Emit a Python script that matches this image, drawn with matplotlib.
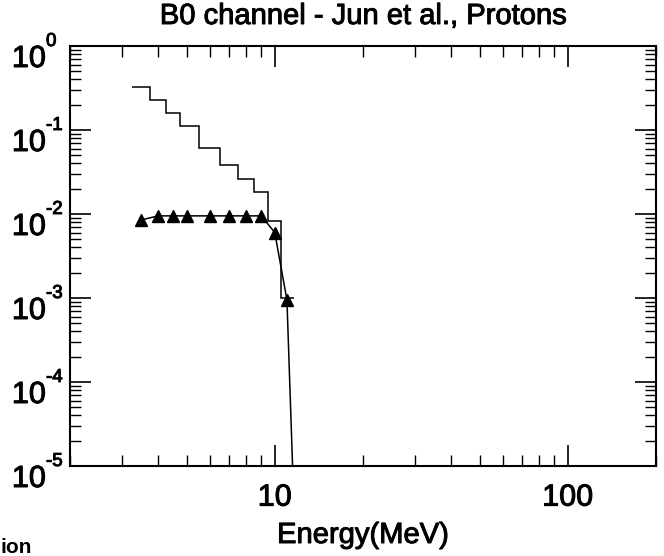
import matplotlib
matplotlib.use("Agg")
import matplotlib.pyplot as plt
import matplotlib.transforms as mtransforms
import matplotlib.patheffects as pe
import numpy as np

plt.rcParams['font.family'] = ['Liberation Sans', 'DejaVu Sans']

# Histogram (step) data: bin edges and values
hist_edges = [3.25, 3.75, 4.25, 4.75, 5.5, 6.5, 7.5, 8.5, 9.5, 10.5, 11.6]
hist_values = [0.328, 0.228, 0.158, 0.1125, 0.0616, 0.0383, 0.0259, 0.0184, 0.00826, 0.00099]

# Line with triangle markers
tri_energy = [3.5, 4.0, 4.5, 5.0, 6.0, 7.0, 8.0, 9.0, 10.0, 11.0]
tri_values = [0.0085, 0.0095, 0.0095, 0.0095, 0.0095, 0.0095, 0.0095, 0.0095, 0.0060, 0.00095]
tail_energy = [11.0, 11.5]
tail_values = [0.00095, 1.0e-5]

title_text = "B0 channel - Jun et al., Protons"
xlabel_text = "Energy(MeV)"
xticks = [10, 100]
xtick_labels = ["10", "100"]
yticks = [1e-5, 1e-4, 1e-3, 1e-2, 1e-1, 1e0]
ytick_exponents = ["-5", "-4", "-3", "-2", "-1", "0"]

bold_fx = [pe.withStroke(linewidth=0.7, foreground='black')]

fig = plt.figure(figsize=(6.64, 5.56), dpi=100)
ax = fig.add_axes([70/664, 90/556, 586/664, 420/556])

ax.stairs(hist_values, hist_edges, color='black', linewidth=1.1, baseline=None)
ax.plot(tri_energy, tri_values, color='black', linewidth=1.1, marker='^',
        markersize=8, markerfacecolor='black', markeredgecolor='black')
ax.plot(tail_energy, tail_values, color='black', linewidth=1.1)

ax.set_xscale('log')
ax.set_yscale('log')
ax.set_xlim(2, 200)
ax.set_ylim(1e-5, 1)

ax.set_xticks(xticks)
ax.set_xticklabels(xtick_labels)
ax.set_yticks(yticks)
ax.set_yticklabels([])

for s in ax.spines.values():
    s.set_linewidth(1.5)

ax.tick_params(which='major', direction='in', length=15, width=1.2,
               top=True, right=True, labelsize=22)
ax.tick_params(which='minor', direction='in', length=8, width=1.0,
               top=True, right=True)
ax.tick_params(axis='x', which='major', pad=12)
for lab in ax.get_xticklabels():
    lab.set_path_effects(bold_fx)

# y tick labels drawn as "10" with a raised exponent
for val, ex in zip(yticks, ytick_exponents):
    yfrac = (np.log10(val) - np.log10(1e-5)) / 5.0
    t_base = mtransforms.ScaledTranslation(-24/100, -21/100, fig.dpi_scale_trans)
    ax.text(0, yfrac, "10", transform=ax.transAxes + t_base, ha='right', va='baseline',
            fontsize=22, clip_on=False, path_effects=bold_fx)
    t_exp = mtransforms.ScaledTranslation(-24/100, 0/100, fig.dpi_scale_trans)
    ax.text(0, yfrac, ex, transform=ax.transAxes + t_exp, ha='left', va='baseline',
            fontsize=13.5, clip_on=False, path_effects=bold_fx)

fig.text(363/664, 1 - 16/556, title_text, ha='center', va='center', fontsize=21,
         path_effects=bold_fx)
ax.set_xlabel(xlabel_text, fontsize=21, labelpad=6, path_effects=bold_fx)
fig.text(0.0, 1 - 553/556, "ion", ha='left', va='baseline', fontsize=15, fontweight='bold')

fig.savefig("out.png", dpi=100)
